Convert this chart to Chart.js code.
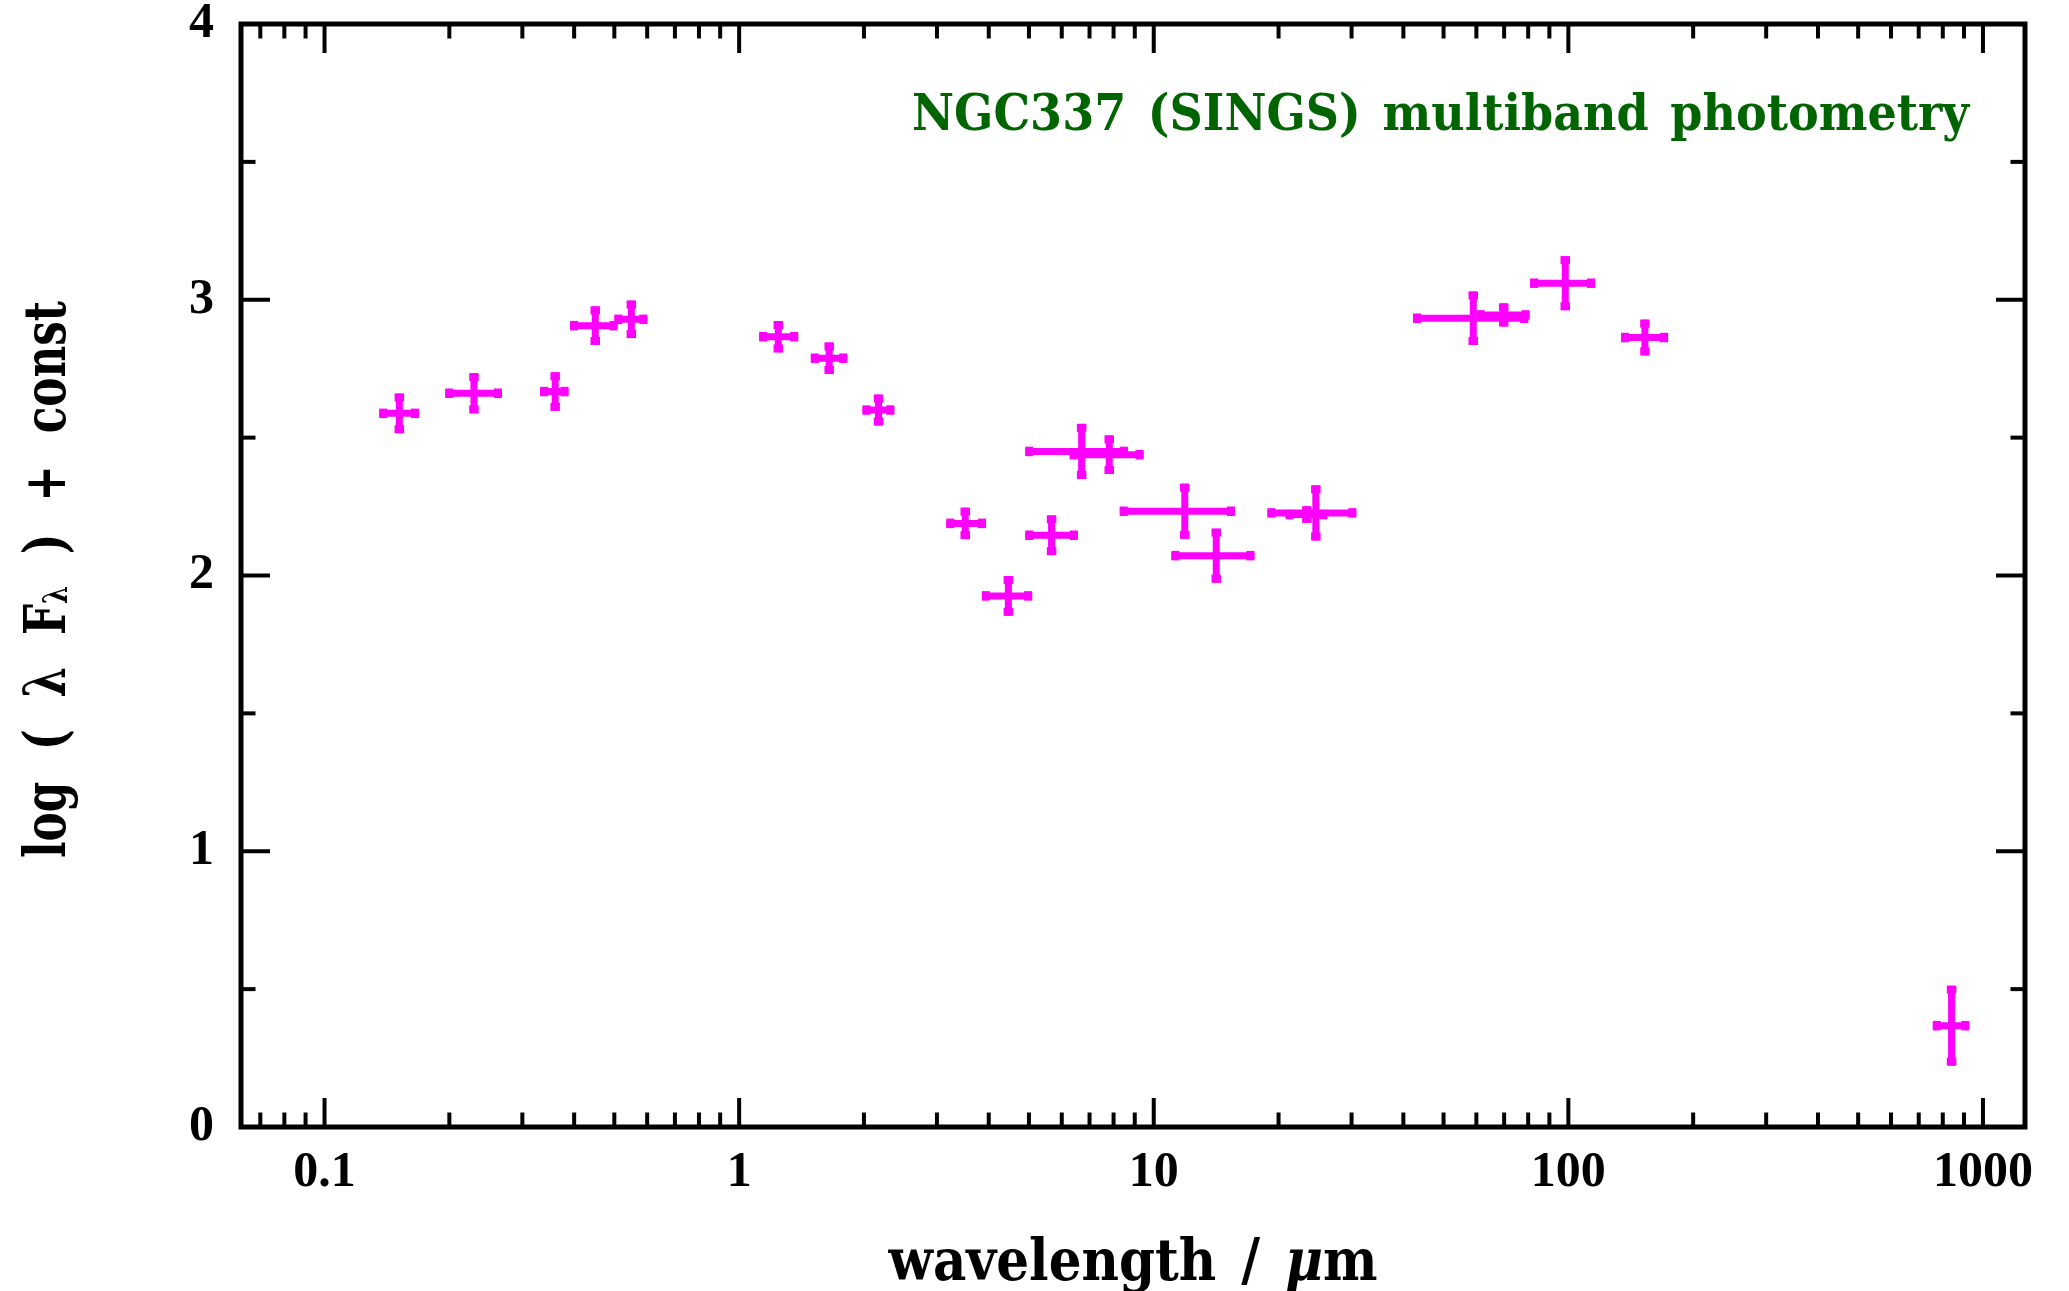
<!DOCTYPE html>
<html><head><meta charset="utf-8">
<script src="https://cdn.jsdelivr.net/npm/chart.js@4.4.1/dist/chart.umd.min.js"></script>
<style>html,body{margin:0;padding:0;background:#fff;overflow:hidden}#wrap{width:2069px;height:1291px;position:relative}</style>
</head><body><div id="wrap"><canvas id="c" width="2069" height="1291"></canvas></div>
<script>
// ---- data ----
const wavelength = [0.1515, 0.2293, 0.360, 0.4497, 0.5495, 1.243, 1.649, 2.169, 3.51, 4.46, 5.67, 6.70, 7.81, 11.88, 14.15, 23.4, 24.6, 58.97, 69.85, 98.3, 153, 840];
const logFlux    = [2.588, 2.661, 2.667, 2.906, 2.929, 2.866, 2.788, 2.600, 2.189, 1.926, 2.146, 2.450, 2.438, 2.233, 2.072, 2.221, 2.227, 2.933, 2.945, 3.060, 2.863, 0.3675];
const bandLow    = [0.1355, 0.1955, 0.331, 0.391, 0.5003, 1.118, 1.489, 1.984, 3.16, 3.85, 4.90, 4.90, 6.27, 8.28, 11.03, 20.8, 18.8, 42.2, 60.1, 80.9, 134, 757];
const bandHigh   = [0.169, 0.2678, 0.3876, 0.509, 0.6004, 1.388, 1.822, 2.367, 3.94, 5.09, 6.56, 8.66, 9.45, 15.7, 17.49, 26.2, 30.8, 80.0, 80.6, 116, 174, 927];
const fluxErr    = [0.072, 0.073, 0.070, 0.070, 0.068, 0.057, 0.057, 0.056, 0.057, 0.072, 0.072, 0.100, 0.070, 0.100, 0.098, 0.030, 0.100, 0.097, 0.042, 0.098, 0.065, 0.145];
const xTickValues = [0.1, 1, 10, 100, 1000];
const xTickLabels = ['0.1', '1', '10', '100', '1000'];
const yTickValues = [0, 1, 2, 3, 4];
const yTickLabels = ['0', '1', '2', '3', '4'];
const titleText = 'NGC337 (SINGS) multiband photometry';
const xTitleParts = ['wavelength / ', 'μ', 'm'];
const yTitleParts = ['log ( λ F', 'λ', ' ) + const'];

const MAGENTA = '#ff00ff';
const GREEN = '#006400';

function seg(ctx, x1, y1, x2, y2) { ctx.beginPath(); ctx.moveTo(x1, y1); ctx.lineTo(x2, y2); ctx.stroke(); }

// draw text parts condensed/stretched horizontally so the run spans `width`
function drawRun(ctx, parts, fonts, offsets, x, y, width, align, wordSp) {
  ctx.save();
  ctx.textAlign = 'left';
  ctx.textBaseline = 'alphabetic';
  if ('wordSpacing' in ctx) ctx.wordSpacing = (wordSp || 0) + 'px';
  const ws = parts.map((t, i) => { ctx.font = fonts[i]; return ctx.measureText(t).width; });
  const tot = ws.reduce((s, w) => s + w, 0);
  const k = width / tot;
  let x0 = align === 'right' ? x - width : (align === 'center' ? x - width / 2 : x);
  ctx.translate(x0, y);
  ctx.scale(k, 1);
  let cx = 0;
  parts.forEach((t, i) => { ctx.font = fonts[i]; ctx.fillText(t, cx, offsets[i]); cx += ws[i]; });
  ctx.restore();
}

const sedPlugin = {
  id: 'sed',
  afterDatasetsDraw(chart) {
    const ctx = chart.ctx, xs = chart.scales.x, ys = chart.scales.y;
    ctx.save();
    ctx.strokeStyle = MAGENTA;
    ctx.lineCap = 'butt';
    const tab = 8;
    for (let i = 0; i < wavelength.length; i++) {
      const px = xs.getPixelForValue(wavelength[i]);
      const py = ys.getPixelForValue(logFlux[i]);
      const xl = xs.getPixelForValue(bandLow[i]);
      const xh = xs.getPixelForValue(bandHigh[i]);
      const yl = ys.getPixelForValue(logFlux[i] - fluxErr[i]);
      const yh = ys.getPixelForValue(logFlux[i] + fluxErr[i]);
      ctx.lineWidth = 7;
      seg(ctx, xl, py, xh, py);
      seg(ctx, px, yl, px, yh);
      ctx.lineWidth = 9.5;
      seg(ctx, xl, py, xl + tab, py);
      seg(ctx, xh - tab, py, xh, py);
      seg(ctx, px, yh, px, yh + tab);
      seg(ctx, px, yl - tab, px, yl);
    }
    ctx.restore();
  },
  afterDraw(chart) {
    const ctx = chart.ctx, xs = chart.scales.x, ys = chart.scales.y;
    const a = chart.chartArea;
    ctx.save();
    // frame
    ctx.strokeStyle = '#000';
    ctx.lineWidth = 5;
    ctx.strokeRect(a.left, a.top, a.right - a.left, a.bottom - a.top);
    // ticks
    ctx.lineWidth = 4;
    const major = 29, minor = 14.5;
    for (let e = -2; e <= 3; e++) {
      for (let m = 1; m <= 9; m++) {
        const v = m * Math.pow(10, e);
        if (v < xs.min || v > xs.max) continue;
        const p = xs.getPixelForValue(v);
        const L = m === 1 ? major : minor;
        seg(ctx, p, a.bottom, p, a.bottom - L);
        seg(ctx, p, a.top, p, a.top + L);
      }
    }
    for (let k = 1; k <= 7; k++) {
      const p = ys.getPixelForValue(k * 0.5);
      const L = k % 2 === 0 ? major : minor;
      seg(ctx, a.left, p, a.left + L, p);
      seg(ctx, a.right, p, a.right - L, p);
    }
    // title inside plot
    ctx.fillStyle = GREEN;
    drawRun(ctx, [titleText], ['bold 50px "DejaVu Serif"'], [0], 1969, 130, 1057, 'right', 6);
    // x title
    ctx.fillStyle = '#000';
    const fx = 'bold 58px "DejaVu Serif"', fxi = 'italic bold 58px "DejaVu Serif"';
    drawRun(ctx, xTitleParts, [fx, fxi, fx], [0, 0, 0], (a.left + a.right) / 2, 1280, 489, 'center', 8);
    // y title (rotated, with subscript)
    ctx.save();
    ctx.translate(65, 0);
    ctx.rotate(-Math.PI / 2);
    const fy = 'bold 58px "DejaVu Serif"', fys = 'bold 34px "DejaVu Serif"';
    drawRun(ctx, yTitleParts, [fy, fys, fy], [0, 2, 0], -((a.top + a.bottom) / 2 + 4), 0, 557, 'center', 22);
    ctx.restore();
    ctx.restore();
  }
};

const tickFont = { family: 'Liberation Serif', weight: 'bold', size: 50 };

new Chart(document.getElementById('c'), {
  type: 'scatter',
  data: {
    datasets: [{
      data: wavelength.map((x, i) => ({ x: x, y: logFlux[i] })),
      pointRadius: 0,
      pointHoverRadius: 0,
      showLine: false,
      borderColor: MAGENTA,
      backgroundColor: MAGENTA
    }]
  },
  options: {
    responsive: false,
    animation: false,
    devicePixelRatio: 1,
    layout: { padding: { top: 24, right: 44, left: 0, bottom: 0 } },
    plugins: { legend: { display: false }, tooltip: { enabled: false }, title: { display: false } },
    events: [],
    scales: {
      x: {
        type: 'logarithmic',
        position: 'bottom',
        min: 0.06288,
        max: 1263,
        grid: { display: false, drawTicks: false },
        border: { display: false },
        ticks: {
          font: tickFont, color: '#000', padding: 16, autoSkip: false, maxRotation: 0, minRotation: 0,
          callback: (v, i) => xTickLabels[i]
        },
        afterBuildTicks: s => { s.ticks = xTickValues.map(v => ({ value: v, major: true })); },
        afterFit: s => { s.height = 164; s.paddingLeft = 0; s.paddingRight = 0; }
      },
      y: {
        type: 'linear',
        position: 'left',
        min: 0,
        max: 4,
        grid: { display: false, drawTicks: false },
        border: { display: false },
        ticks: {
          font: tickFont, color: '#000', padding: 27,
          callback: (v, i) => yTickLabels[i]
        },
        afterBuildTicks: s => { s.ticks = yTickValues.map(v => ({ value: v })); },
        afterFit: s => { s.width = 241; s.paddingTop = 0; s.paddingBottom = 0; }
      }
    }
  },
  plugins: [sedPlugin]
});
</script></body></html>
